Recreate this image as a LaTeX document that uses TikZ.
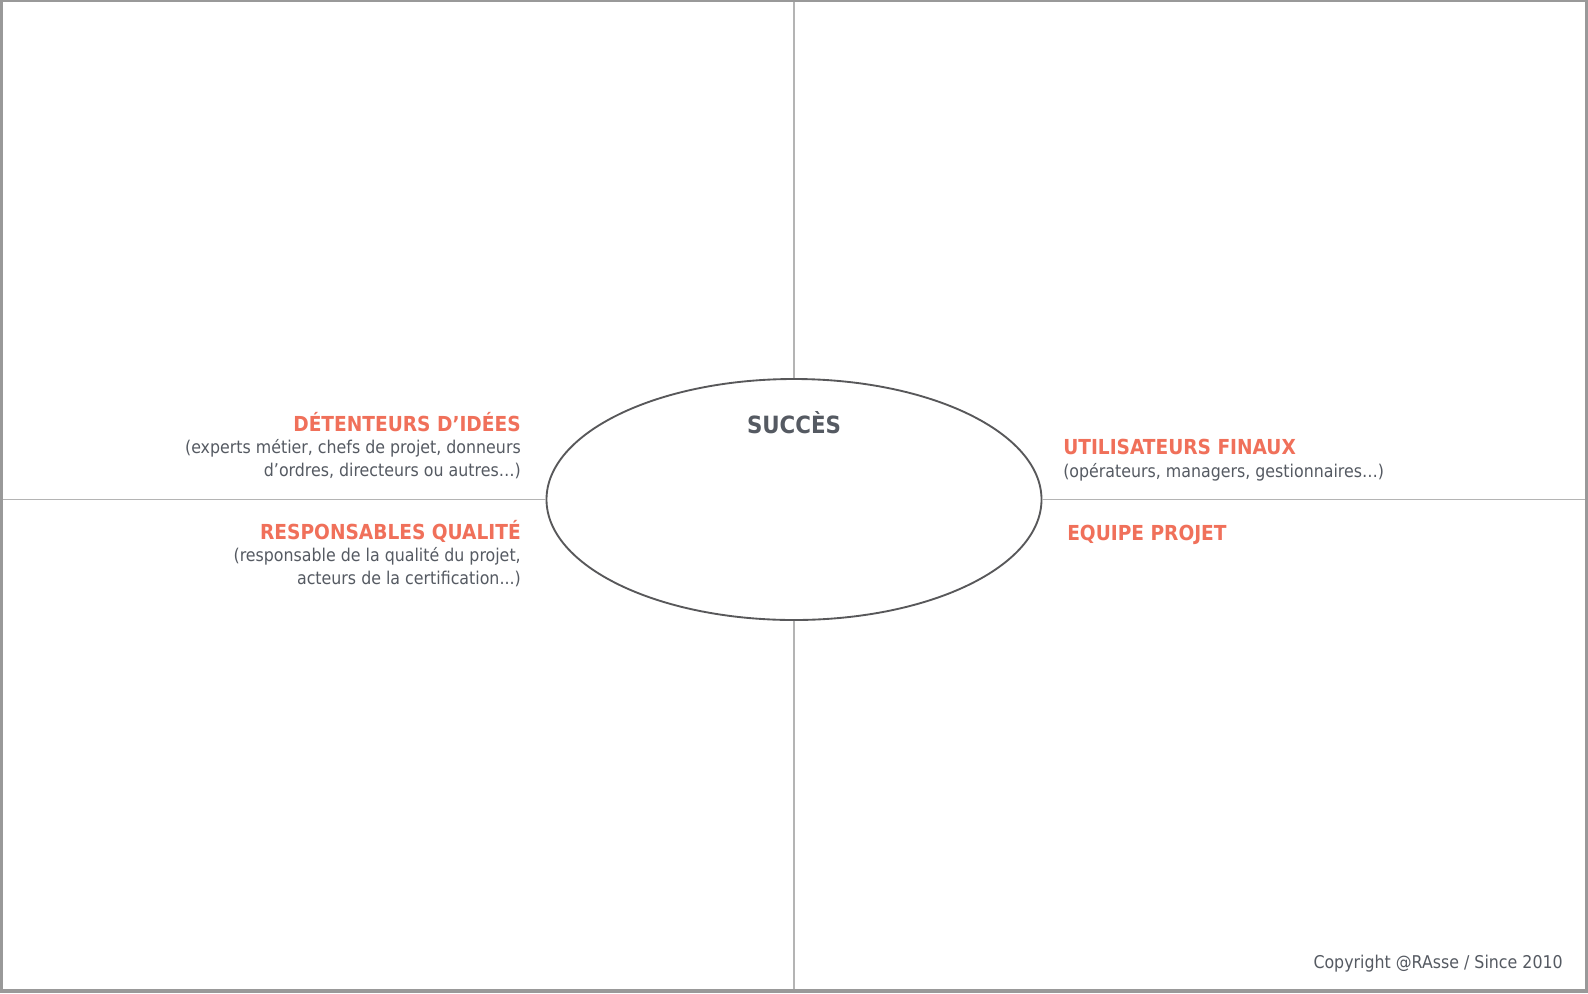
\documentclass[tikz,border=0pt]{standalone}
\usepackage{fontspec}
\usetikzlibrary{shapes.geometric}
\setmainfont{DejaVu Sans Condensed}
\definecolor{frame}{HTML}{999999}
\definecolor{axis}{HTML}{B4B4B4}
\definecolor{ring}{HTML}{58585A}
\definecolor{accent}{HTML}{F0705A}
\definecolor{ink}{HTML}{555A62}
\tikzset{
  title/.style={font=\fontsize{15.5}{18}\selectfont\bfseries, text=accent, inner sep=0pt},
  desc/.style={font=\fontsize{13.2}{16.8}\selectfont, text=ink, inner sep=0pt},
  axisline/.style={draw=axis, line width=0.8pt},
}
\begin{document}
\begin{tikzpicture}[x=0.75pt,y=-0.75pt]
% frame
\fill[frame] (0,0) rectangle (1588,993);
\fill[white] (3,2) rectangle (1585,989);
\useasboundingbox (0,0) rectangle (1588,993);
% central ellipse
\node[draw=ring, line width=1.4pt, ellipse, minimum width=495*0.75pt, minimum height=241*0.75pt, inner sep=0pt] (core) at (794,499.5) {};
% axes
\coordinate (top) at (794,2);
\coordinate (bottom) at (794,989);
\coordinate (left) at (3,499.5);
\coordinate (right) at (1585,499.5);
\draw[axisline] (top) -- (core.north);
\draw[axisline] (core.south) -- (bottom);
\draw[axisline] (left) -- (core.west);
\draw[axisline] (core.east) -- (right);
% labels (multi-line nodes sit on the baseline of their last line)
\node[font=\fontsize{17.8}{20}\selectfont\bfseries, text=ink, inner sep=0pt, anchor=base] (succes) at (794,433) {SUCCÈS};
\node[title, anchor=base east] (t1) at (521,431) {DÉTENTEURS D’IDÉES};
\node[desc, anchor=base east, align=right] (d1) at (521,476) {(experts métier, chefs de projet, donneurs\\d’ordres, directeurs ou autres…)};
\node[title, anchor=base east] (t2) at (521,539) {RESPONSABLES QUALITÉ};
\node[desc, anchor=base east, align=right] (d2) at (521,584) {(responsable de la qualité du projet,\\acteurs de la certification...)};
\node[title, anchor=base west] (t3) at (1063,454) {UTILISATEURS FINAUX};
\node[desc, anchor=base west] (d3) at (1063,477) {(opérateurs, managers, gestionnaires…)};
\node[title, anchor=base west] (t4) at (1067,540) {EQUIPE PROJET};
\node[desc, anchor=base east] (copy) at (1563,968) {Copyright @RAsse / Since 2010};
\end{tikzpicture}
\end{document}
